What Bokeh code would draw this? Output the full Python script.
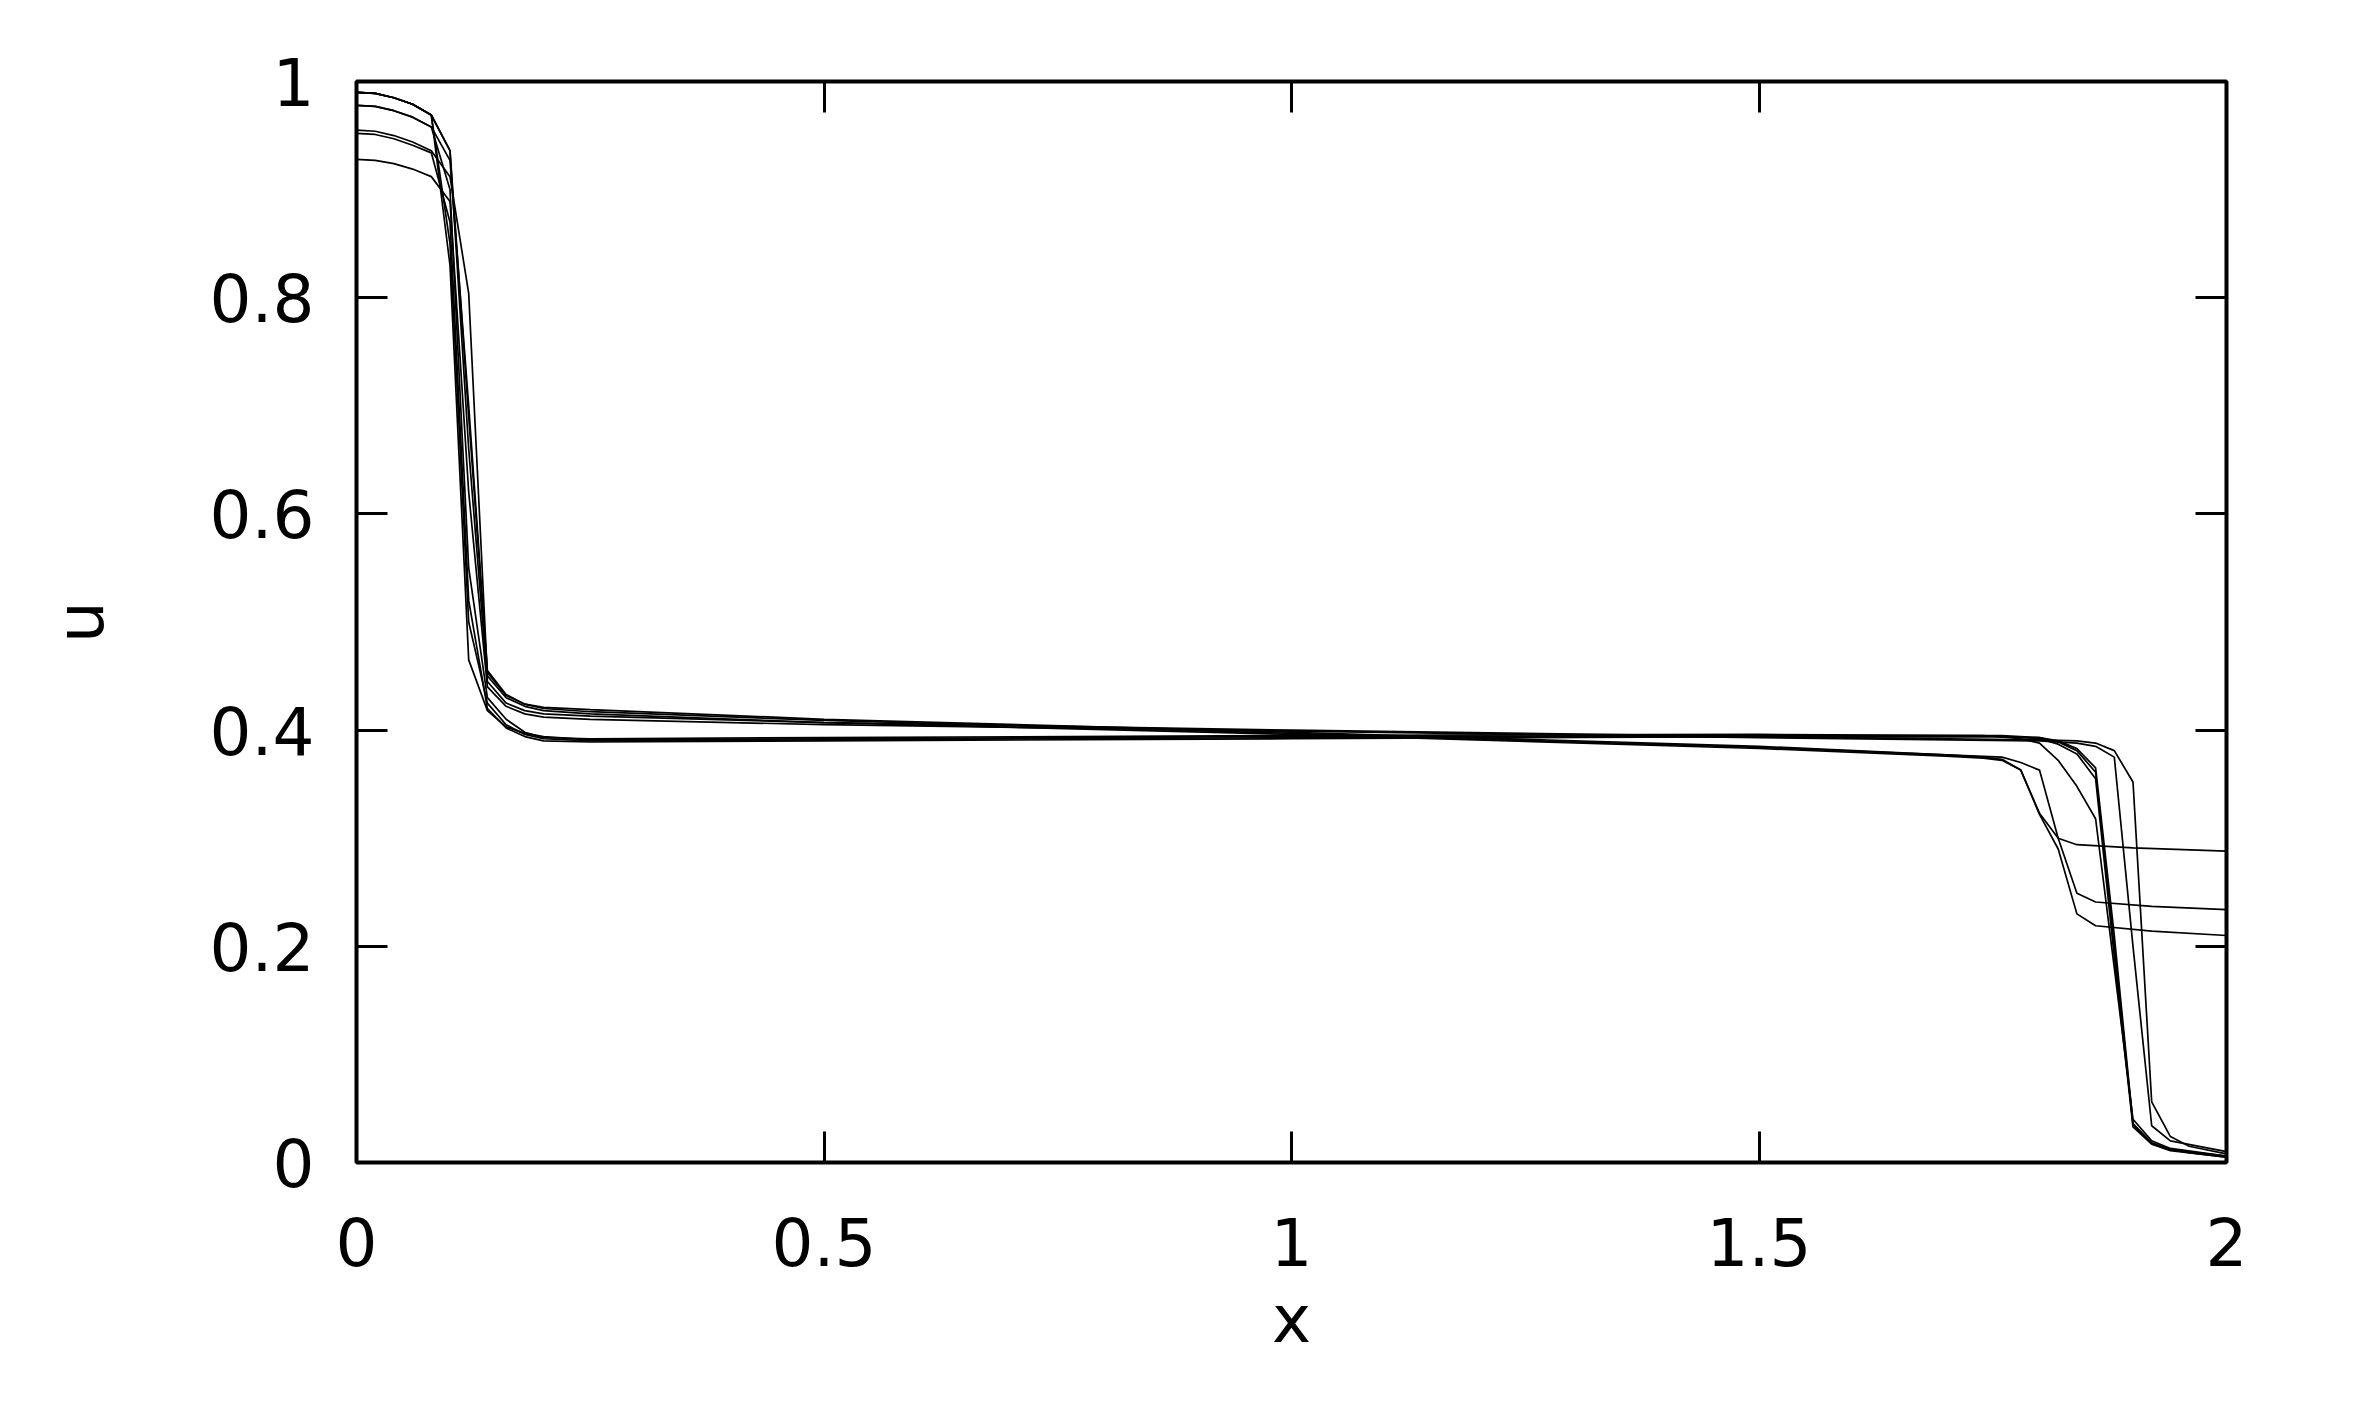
from bokeh.plotting import figure
from bokeh.models import Range1d, LinearAxis, FixedTicker, CustomJSTickFormatter
from bokeh.embed import file_html
from bokeh.resources import INLINE

# ---- data (vertices of each curve) ----
x1 = [0, 0.02, 0.04, 0.06, 0.08, 0.10, 0.12, 0.14, 0.16, 0.18, 0.20, 0.25, 0.5, 1.0, 1.5, 1.7, 1.74, 1.76, 1.78, 1.80, 1.82, 1.84, 1.90, 2.0]
u1 = [0.990, 0.989, 0.985, 0.979, 0.969, 0.936, 0.690, 0.453, 0.432, 0.424, 0.421, 0.419, 0.410, 0.398, 0.385, 0.377, 0.375, 0.373, 0.363, 0.323, 0.300, 0.294, 0.291, 0.288]

x2 = [0, 0.02, 0.04, 0.06, 0.08, 0.10, 0.12, 0.14, 0.16, 0.18, 0.20, 0.25, 0.5, 1.0, 1.5, 1.7, 1.76, 1.78, 1.80, 1.82, 1.84, 1.86, 1.92, 2.0]
u2 = [0.978, 0.977, 0.973, 0.967, 0.958, 0.927, 0.700, 0.455, 0.433, 0.424, 0.420, 0.417, 0.409, 0.397, 0.384, 0.377, 0.375, 0.370, 0.363, 0.300, 0.249, 0.241, 0.237, 0.234]

x3 = [0, 0.02, 0.04, 0.06, 0.08, 0.10, 0.12, 0.14, 0.16, 0.18, 0.20, 0.25, 0.5, 1.0, 1.5, 1.7, 1.74, 1.76, 1.78, 1.80, 1.82, 1.84, 1.86, 1.92, 2.0]
u3 = [0.955, 0.954, 0.950, 0.944, 0.936, 0.912, 0.804, 0.450, 0.430, 0.422, 0.418, 0.415, 0.407, 0.396, 0.383, 0.376, 0.374, 0.372, 0.363, 0.322, 0.290, 0.230, 0.219, 0.214, 0.210]

x4 = [0, 0.02, 0.04, 0.06, 0.08, 0.10, 0.12, 0.14, 0.16, 0.18, 0.20, 0.25, 0.5, 1.0, 1.5, 1.8, 1.84, 1.86, 1.88, 1.90, 1.92, 1.94, 1.96, 2.0]
u4 = [0.990, 0.989, 0.985, 0.979, 0.969, 0.936, 0.660, 0.445, 0.425, 0.418, 0.415, 0.413, 0.407, 0.400, 0.394, 0.391, 0.390, 0.388, 0.381, 0.352, 0.056, 0.024, 0.015, 0.008]

x5 = [0, 0.02, 0.04, 0.06, 0.08, 0.10, 0.12, 0.14, 0.16, 0.18, 0.20, 0.25, 0.5, 1.0, 1.5, 1.8, 1.84, 1.86, 1.88, 1.90, 1.92, 1.94, 2.0]
u5 = [0.928, 0.927, 0.924, 0.919, 0.912, 0.889, 0.620, 0.440, 0.422, 0.415, 0.412, 0.410, 0.405, 0.399, 0.393, 0.390, 0.388, 0.385, 0.375, 0.200, 0.034, 0.020, 0.010]

x6 = [0, 0.02, 0.04, 0.06, 0.08, 0.10, 0.12, 0.14, 0.16, 0.18, 0.20, 0.25, 0.5, 1.0, 1.5, 1.76, 1.80, 1.82, 1.84, 1.86, 1.88, 1.90, 1.92, 1.94, 1.96, 2.0]
u6 = [0.990, 0.989, 0.985, 0.979, 0.969, 0.830, 0.465, 0.418, 0.403, 0.397, 0.394, 0.391, 0.392, 0.394, 0.395, 0.395, 0.393, 0.389, 0.381, 0.361, 0.200, 0.035, 0.018, 0.012, 0.009, 0.005]

x7 = [0, 0.02, 0.04, 0.06, 0.08, 0.10, 0.12, 0.14, 0.16, 0.18, 0.20, 0.25, 0.5, 1.0, 1.5, 1.76, 1.80, 1.82, 1.84, 1.86, 1.88, 1.90, 1.92, 1.94, 2.0]
u7 = [0.990, 0.989, 0.985, 0.979, 0.969, 0.850, 0.500, 0.425, 0.405, 0.396, 0.392, 0.390, 0.391, 0.393, 0.394, 0.394, 0.392, 0.387, 0.378, 0.355, 0.190, 0.033, 0.017, 0.011, 0.005]

x8 = [0, 0.02, 0.04, 0.06, 0.08, 0.10, 0.12, 0.14, 0.16, 0.18, 0.20, 0.25, 0.5, 1.0, 1.5, 1.74, 1.78, 1.80, 1.82, 1.84, 1.86, 1.88, 1.90, 1.92, 1.94, 2.0]
u8 = [0.978, 0.977, 0.973, 0.967, 0.958, 0.900, 0.550, 0.430, 0.410, 0.398, 0.393, 0.392, 0.393, 0.395, 0.396, 0.395, 0.392, 0.388, 0.372, 0.348, 0.318, 0.180, 0.040, 0.020, 0.013, 0.006]

x9 = [0, 0.02, 0.04, 0.06, 0.08, 0.10, 0.12, 0.14, 0.16, 0.18, 0.20, 0.25, 0.5, 1.0, 1.5, 1.76, 1.80, 1.82, 1.84, 1.86, 1.88, 1.90, 1.92, 1.94, 2.0]
u9 = [0.952, 0.951, 0.947, 0.941, 0.934, 0.870, 0.520, 0.420, 0.402, 0.394, 0.390, 0.389, 0.390, 0.392, 0.394, 0.394, 0.393, 0.390, 0.383, 0.365, 0.210, 0.036, 0.018, 0.012, 0.006]

curves = [(x1, u1), (x2, u2), (x3, u3), (x4, u4), (x5, u5), (x6, u6), (x7, u7), (x8, u8), (x9, u9)]

x_ticks = [0, 0.5, 1, 1.5, 2]
y_ticks = [0, 0.2, 0.4, 0.6, 0.8, 1]
x_label = "x"
y_label = "u"

# ---- figure ----
FONT = "DejaVu Sans"
FS = "66px"

p = figure(width=2342, height=1400, output_backend="svg", toolbar_location=None,
           x_range=Range1d(0, 2), y_range=Range1d(0, 1),
           min_border_left=356, min_border_right=116, min_border_top=81, min_border_bottom=238,
           x_axis_label=x_label, y_axis_label=y_label)
p.background_fill_color = "white"
p.border_fill_color = "white"
p.grid.visible = False
p.outline_line_color = "black"
p.outline_line_width = 4

for xs, us in curves:
    p.line(xs, us, line_color="black", line_width=1.7)

fmt = CustomJSTickFormatter(code="return tick.toString();")
empty = CustomJSTickFormatter(code="return '';")

def style(ax, ticks, formatter, standoff):
    ax.ticker = FixedTicker(ticks=ticks)
    ax.formatter = formatter
    ax.axis_line_color = None
    ax.major_tick_in = 31
    ax.major_tick_out = 0
    ax.major_tick_line_width = 3
    ax.major_tick_line_color = "black"
    ax.minor_tick_line_color = None
    ax.major_label_text_font = FONT
    ax.major_label_text_font_size = FS
    ax.major_label_text_color = "black"
    ax.major_label_standoff = standoff
    ax.axis_label_text_font = FONT
    ax.axis_label_text_font_size = FS
    ax.axis_label_text_font_style = "normal"
    ax.axis_label_text_color = "black"

style(p.xaxis[0], x_ticks, fmt, 54)
style(p.yaxis[0], y_ticks, fmt, 42)
p.xaxis[0].axis_label_standoff = 12
p.yaxis[0].axis_label_standoff = 88

top = LinearAxis()
style(top, x_ticks, empty, 0)
p.add_layout(top, "above")
right = LinearAxis()
style(right, y_ticks, empty, 0)
p.add_layout(right, "right")

open("out.html", "w").write(file_html(p, INLINE))
